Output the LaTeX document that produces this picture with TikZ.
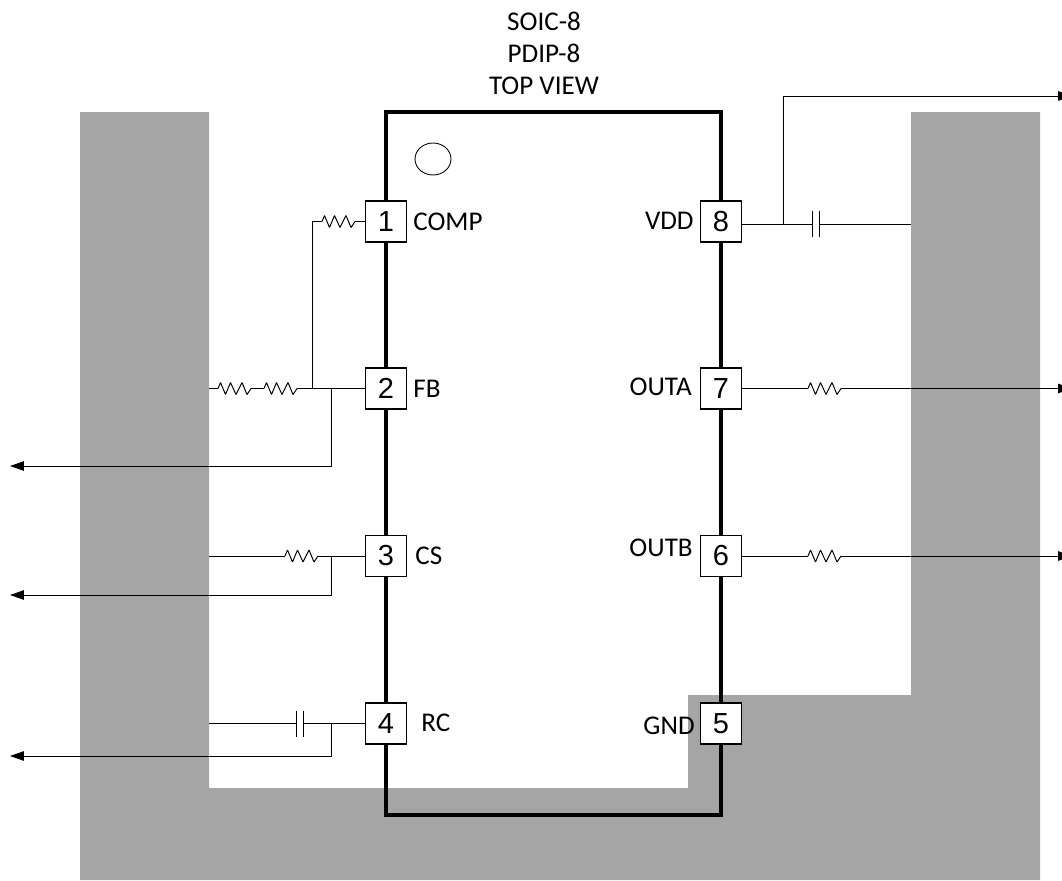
\documentclass[tikz,border=0pt]{standalone}
\usepackage{fontspec}
\setmainfont{Carlito}
\newfontfamily\digitfont{Liberation Sans}
\usepackage{tikz}
\usetikzlibrary{arrows.meta}
\usetikzlibrary{positioning}
\usetikzlibrary{shapes.geometric}
\definecolor{padgray}{HTML}{A5A5A5}
\tikzset{
  wire/.style={line width=0.55pt},
  outwire/.style={wire, -{Triangle[length=0.28cm,width=0.19cm]}},
  pinbox/.style={draw=black, fill=white, line width=0.8pt, minimum size=0.82cm, inner sep=0pt, font=\digitfont\fontsize{16.5}{19}\selectfont},
  pinlabel/.style={inner sep=0pt, font=\fontsize{15.4}{18}\selectfont},
  headline/.style={inner sep=0pt, font=\fontsize{15.4}{18}\selectfont},
  resistor/.pic={\draw[wire, line join=bevel] (0,0) -- (2.5,-6) -- (7.5,6) -- (12.5,-6) -- (18,6) -- (24,-6) -- (29,6) -- (33,0);},
  capacitor/.pic={\draw[wire] (0,-13) -- (0,13) (7,-13) -- (7,13);}
}
\begin{document}
\begin{tikzpicture}[x=0.02cm,y=-0.02cm]
\useasboundingbox (0,0) rectangle (1062,880);

% Kupferflaeche
\fill[padgray] (80,112) -- (209,112) -- (209,788) -- (688,788) -- (688,695) -- (911,695) -- (911,112) -- (1040,112) -- (1040,880) -- (80,880) -- cycle;

% Gehaeuse
\draw[line width=1.9pt] (386,112) rectangle (721,815);
\node[draw, ellipse, minimum width=0.72cm, minimum height=0.64cm, inner sep=0pt, line width=0.5pt] (dot) at (433,159) {};

% Ueberschrift
\node[headline] (title1) at (544,21) {SOIC-8};
\node[headline] (title2) at (544,53) {PDIP-8};
\node[headline] (title3) at (544,86) {TOP VIEW};

% Pins
\node[pinbox] (pin1) at (386,221.5) {1};
\node[pinbox] (pin2) at (386,388.5) {2};
\node[pinbox] (pin3) at (386,556) {3};
\node[pinbox] (pin4) at (386,723.5) {4};
\node[pinbox] (pin5) at (721,723.5) {5};
\node[pinbox] (pin6) at (721,556) {6};
\node[pinbox] (pin7) at (721,388.5) {7};
\node[pinbox] (pin8) at (721,221.5) {8};

% Beschriftungen
\node[pinlabel, anchor=west] (comp) at (413,222) {COMP};
\node[pinlabel, anchor=west] (fb) at (413,389) {FB};
\node[pinlabel, anchor=west] (cs) at (415,556) {CS};
\node[pinlabel, anchor=west] (rc) at (421,723) {RC};
\node[pinlabel, anchor=east] (vdd) at (694,221) {VDD};
\node[pinlabel, anchor=east] (outa) at (692,387) {OUTA};
\node[pinlabel, anchor=east] (outb) at (693,548) {OUTB};
\node[pinlabel, anchor=east] (gnd) at (695,726) {GND};

% Pin 1 und Pin 2
\coordinate (R1a) at (322,221.5);
\coordinate (R1b) at (355,221.5);
\coordinate (T1) at (312,388.5);
\coordinate (T2) at (331,388.5);
\coordinate (R2a) at (218,388.5);
\coordinate (R2b) at (251,388.5);
\coordinate (R2c) at (264,388.5);
\coordinate (R2d) at (297,388.5);
\coordinate (L2) at (209,388.5);
\coordinate (E2) at (331,466);
\coordinate (A2) at (10,466);
\draw[wire] (pin1) -- (R1b);
\draw pic at (R1a) {resistor};
\draw[wire] (R1a) -| (T1);
\draw[wire] (pin2) -- (R2d);
\draw pic at (R2c) {resistor};
\draw[wire] (R2c) -- (R2b);
\draw pic at (R2a) {resistor};
\draw[wire] (R2a) -- (L2);
\draw[outwire] (T2) -- (E2) -- (A2);

% Pin 3
\coordinate (R3a) at (285,556);
\coordinate (R3b) at (318,556);
\coordinate (L3) at (209,556);
\coordinate (T3) at (331,556);
\coordinate (E3) at (331,595);
\coordinate (A3) at (10,595);
\draw[wire] (pin3) -- (R3b);
\draw pic at (R3a) {resistor};
\draw[wire] (R3a) -- (L3);
\draw[outwire] (T3) -- (E3) -- (A3);

% Pin 4
\coordinate (C4a) at (296,723.5);
\coordinate (C4b) at (303,723.5);
\coordinate (L4) at (209,723.5);
\coordinate (T4) at (331,723.5);
\coordinate (E4) at (331,756);
\coordinate (A4) at (10,756);
\draw[wire] (pin4) -- (C4b);
\draw pic at (C4a) {capacitor};
\draw[wire] (C4a) -- (L4);
\draw[outwire] (T4) -- (E4) -- (A4);

% Pin 8
\coordinate (C8a) at (812,224);
\coordinate (C8b) at (819,224);
\coordinate (R8) at (911,224);
\coordinate (T8) at (783,224);
\coordinate (E8) at (783,96);
\coordinate (A8) at (1072,96);
\draw[wire] (pin8.east |- C8a) -- (C8a);
\draw pic at (C8a) {capacitor};
\draw[wire] (C8b) -- (R8);
\draw[outwire] (T8) -- (E8) -- (A8);

% Pin 7
\coordinate (R7a) at (808,388.5);
\coordinate (R7b) at (841,388.5);
\coordinate (A7) at (1072,388.5);
\draw[wire] (pin7) -- (R7a);
\draw pic at (R7a) {resistor};
\draw[outwire] (R7b) -- (A7);

% Pin 6
\coordinate (R6a) at (808,556);
\coordinate (R6b) at (841,556);
\coordinate (A6) at (1072,556);
\draw[wire] (pin6) -- (R6a);
\draw pic at (R6a) {resistor};
\draw[outwire] (R6b) -- (A6);

\end{tikzpicture}
\end{document}
